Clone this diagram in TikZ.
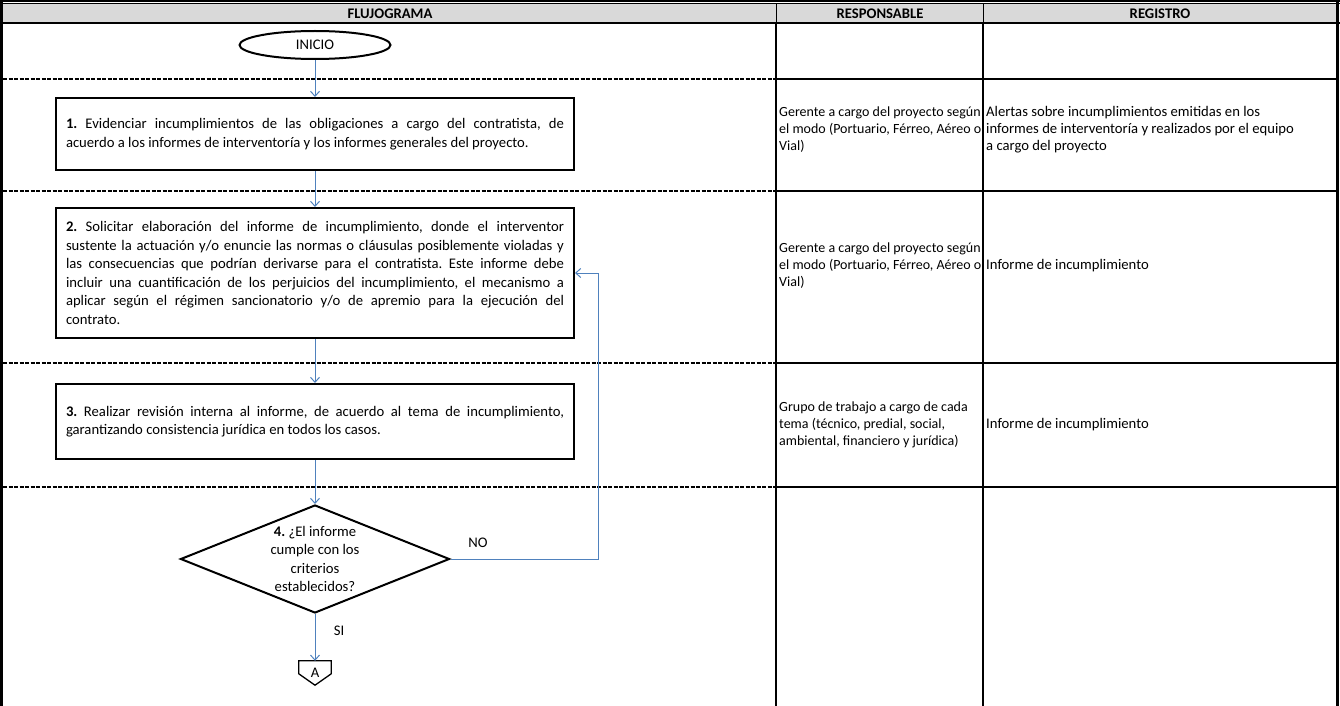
\documentclass[tikz,border=0pt]{standalone}
\usepackage{fontspec}
\setmainfont{Carlito}
\usepackage{tikz}
\usetikzlibrary{arrows.meta,shapes.geometric,positioning}
\definecolor{azul}{RGB}{79,129,189}
\definecolor{gris}{RGB}{217,217,217}
\newcommand{\letra}{\fontsize{14.67}{18.6}\selectfont\frenchspacing}
\newcommand{\letracelda}{\fontsize{14.67}{17}\selectfont}

\begin{document}
\begin{tikzpicture}[x=1pt, y=-1pt,
  paso/.style={draw, line width=2pt, text width=498pt, inner xsep=10pt,
    inner ysep=0pt, align=justify, font=\letra},
  flecha/.style={draw=azul, line width=1pt, -{Straight Barb[length=5pt,width=9pt]}},
  celda/.style={anchor=west, inner sep=0pt, align=left, font=\letracelda},
  raya/.style={line width=2pt, dash pattern=on 4pt off 1.5pt},
  borde/.style={line width=2.5pt}]
\useasboundingbox (0,0) rectangle (1340,706);

% encabezado
\fill[gris] (3,4) rectangle (1336,23);
\draw[line width=1.7pt] (0,0.85) -- (1340,0.85);
\draw[line width=0.8pt] (0,3.4) -- (1340,3.4);
\draw[line width=1.5pt] (0,23) -- (1340,23);
\draw[line width=0.6pt] (776,4) -- (776,23) (983,4) -- (983,23);
\node[font=\bfseries\letra] (hflujo) at (390,13.5) {FLUJOGRAMA};
\node[font=\bfseries\letra] (hresp) at (880,13.5) {RESPONSABLE};
\node[font=\bfseries\letra] (hreg) at (1160,13.5) {REGISTRO};

% columnas y filas
\draw[borde] (1.35,0) -- (1.35,706);
\draw[borde] (776,23) -- (776,706);
\draw[borde] (983,23) -- (983,706);
\draw[borde] (1337.7,0) -- (1337.7,706);
\foreach \y in {79,191,363,487}{
  \draw[raya] (3,\y) -- (775,\y);
  \draw[line width=2pt] (776,\y) -- (1337,\y);
}

% flujograma
\node[ellipse, draw, line width=2pt, minimum width=151pt, minimum height=28pt,
  inner sep=0pt, font=\letra] (inicio) at (315,45) {INICIO};
\node[paso, minimum height=72pt] (paso1) at (315,134)
  {\textbf{1.} Evidenciar incumplimientos de las obligaciones a cargo del contratista, de\linebreak
   acuerdo a los informes de interventoría y los informes generales del proyecto.};
\node[paso, minimum height=130pt] (paso2) at (315,273)
  {\textbf{2.} Solicitar elaboración del informe de incumplimiento, donde el interventor\linebreak
   sustente la actuación y/o enuncie las normas o cláusulas posiblemente violadas y\linebreak
   las consecuencias que podrían derivarse para el contratista. Este informe debe\linebreak
   incluir una cuantificación de los perjuicios del incumplimiento, el mecanismo a\linebreak
   aplicar según el régimen sancionatorio y/o de apremio para la ejecución del\linebreak
   contrato.};
\node[paso, minimum height=75pt] (paso3) at (315,421.5)
  {\textbf{3.} Realizar revisión interna al informe, de acuerdo al tema de incumplimiento,\linebreak
   garantizando consistencia jurídica en todos los casos.};
\node[diamond, draw, line width=2pt, aspect=2.5, inner sep=0pt, minimum width=269pt,
  minimum height=108pt, align=center, font=\letra] (decision) at (315,559)
  {\textbf{4.} ¿El informe\\cumple con los\\criterios\\establecidos?};
\node[inner sep=0pt, minimum width=32pt, minimum height=24pt, font=\letra] (conA) at (315,673) {A};
\draw[line width=1.3pt] (conA.north west) -- (conA.north east) -- ([yshift=-13pt]conA.north east)
  -- (conA.south) -- ([yshift=-13pt]conA.north west) -- cycle;
\coordinate (retorno) at (598,559);

\draw[flecha] (inicio) -- (paso1);
\draw[flecha] (paso1) -- (paso2);
\draw[flecha] (paso2) -- (paso3);
\draw[flecha] (paso3) -- (decision);
\draw[flecha] (decision) -- (conA);
\draw[flecha] (decision.east) -- (retorno) |- (paso2.east);
\node[font=\letra] (no) at (478,543) {NO};
\node[font=\letra] (si) at (339,631) {SI};

% responsable y registro
\node[celda, font=\fontsize{14}{17}\selectfont] (resp1) at (779,130) {Gerente a cargo del proyecto según\\el modo (Portuario, Férreo, Aéreo o\\Vial)};
\node[celda] (reg1) at (986,130) {Alertas sobre incumplimientos emitidas en los\\informes de interventoría y realizados por el equipo\\a cargo del proyecto};
\node[celda, font=\fontsize{14}{17}\selectfont] (resp2) at (779,266) {Gerente a cargo del proyecto según\\el modo (Portuario, Férreo, Aéreo o\\Vial)};
\node[celda] (reg2) at (986,266) {Informe de incumplimiento};
\node[celda, font=\fontsize{14}{17}\selectfont] (resp3) at (779,425) {Grupo de trabajo a cargo de cada\\tema (técnico, predial, social,\\ambiental, financiero y jurídica)};
\node[celda] (reg3) at (986,425) {Informe de incumplimiento};
\end{tikzpicture}
\end{document}
